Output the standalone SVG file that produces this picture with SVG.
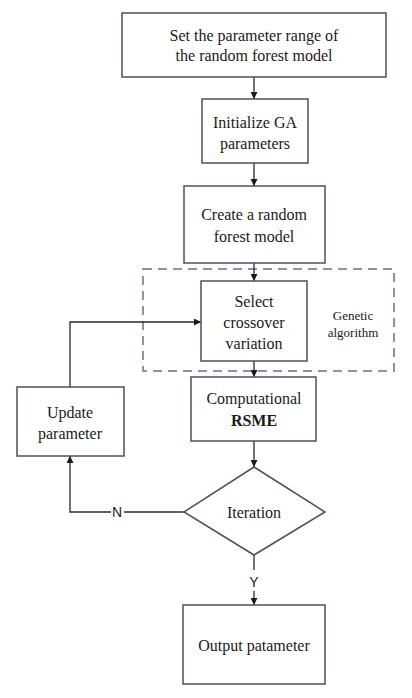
<svg xmlns="http://www.w3.org/2000/svg" width="412" height="698" viewBox="0 0 412 698">
<style>
.box{fill:#fff;stroke:#4b4f66;stroke-width:1.5}
.t{font-family:"Liberation Serif","Times New Roman","DejaVu Serif",serif;font-size:16px;fill:#1a1a1a;text-anchor:middle}
.g{font-family:"Liberation Serif","Times New Roman","DejaVu Serif",serif;font-size:13px;fill:#1a1a1a;text-anchor:middle}
.s{font-family:"Liberation Sans",Arial,sans-serif;font-size:14px;fill:#1a1a2a;text-anchor:middle}
.c{fill:none;stroke:#2a2a2a;stroke-width:1.3}
</style>
<defs>
<marker id="ah" viewBox="0 0 10 10" refX="10" refY="5" markerWidth="7" markerHeight="7" markerUnits="userSpaceOnUse" orient="auto">
<path d="M0,0 L10,5 L0,10 z" fill="#1a1a1a"/>
</marker>
</defs>
<rect width="412" height="698" fill="#fff"/>
<g id="ga-group">
<rect x="143" y="269" width="251" height="102" fill="none" stroke="#6a6e8a" stroke-width="1.5" stroke-dasharray="9,6"/>
<text class="g" x="353" y="320">Genetic</text>
<text class="g" x="353" y="337">algorithm</text>
</g>
<g id="connectors">
<line class="c" x1="254" y1="77" x2="254" y2="99" marker-end="url(#ah)"/>
<line class="c" x1="254" y1="163" x2="254" y2="186" marker-end="url(#ah)"/>
<line class="c" x1="254" y1="263" x2="254" y2="281" marker-end="url(#ah)"/>
<line class="c" x1="254" y1="361" x2="254" y2="377" marker-end="url(#ah)"/>
<line class="c" x1="254" y1="441" x2="254" y2="467" marker-end="url(#ah)"/>
<polyline class="c" points="184,512 124,512"/>
<polyline class="c" points="111,512 70,512 70,456" marker-end="url(#ah)"/>
<polyline class="c" points="70,387 70,322 201,322" marker-end="url(#ah)"/>
<line class="c" x1="254" y1="555" x2="254" y2="570"/>
<line class="c" x1="254" y1="591" x2="254" y2="605" marker-end="url(#ah)"/>
<text class="s" x="117" y="517">N</text>
<text class="s" x="254" y="587">Y</text>
</g>
<g id="n1">
<rect class="box" x="122" y="13" width="264" height="64"/>
<text class="t" x="254" y="41">Set the parameter range of</text>
<text class="t" x="254" y="61">the random forest  model</text>
</g>
<g id="n2">
<rect class="box" x="202" y="99" width="106" height="64"/>
<text class="t" x="255" y="128">Initialize GA</text>
<text class="t" x="255" y="149">parameters</text>
</g>
<g id="n3">
<rect class="box" x="184" y="186" width="141" height="77"/>
<text class="t" x="254" y="220">Create a random</text>
<text class="t" x="254" y="242">forest model</text>
</g>
<g id="n4">
<rect class="box" x="201" y="281" width="106" height="80"/>
<text class="t" x="254" y="307">Select</text>
<text class="t" x="254" y="328">crossover</text>
<text class="t" x="254" y="349">variation</text>
</g>
<g id="n5">
<rect class="box" x="191" y="377" width="125" height="64"/>
<text class="t" x="254" y="404">Computational</text>
<text class="t" x="254" y="426" font-weight="bold">RSME</text>
</g>
<g id="n6">
<rect class="box" x="17" y="387" width="107" height="69"/>
<text class="t" x="70" y="418">Update</text>
<text class="t" x="70" y="439">parameter</text>
</g>
<g id="n7">
<polygon class="box" points="254,467 325,512 254,555 184,512"/>
<text class="t" x="254" y="518">Iteration</text>
</g>
<g id="n8">
<rect class="box" x="183" y="605" width="142" height="79"/>
<text class="t" x="254" y="651">Output patameter</text>
</g>
</svg>
